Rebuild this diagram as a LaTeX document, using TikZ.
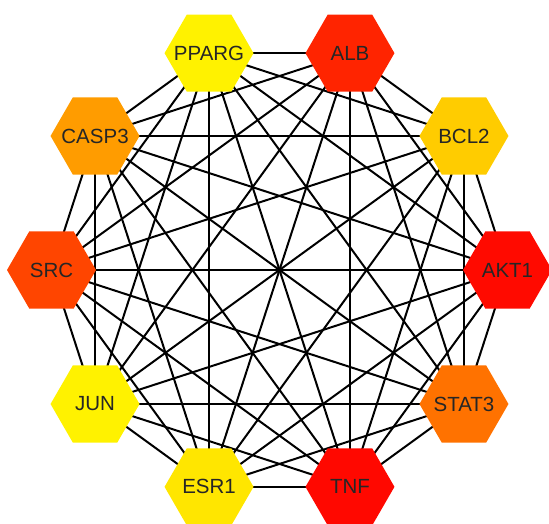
\documentclass[tikz,border=0pt]{standalone}
\usepackage{fontspec}
\setmainfont{Liberation Sans}
\usetikzlibrary{shapes.geometric,backgrounds,calc}
\definecolor{cAKT}{HTML}{FF0A00}
\definecolor{cBCL}{HTML}{FFCC00}
\definecolor{cALB}{HTML}{FF2400}
\definecolor{cPPA}{HTML}{FFF200}
\definecolor{cCAS}{HTML}{FF9C00}
\definecolor{cSRC}{HTML}{FF4500}
\definecolor{cJUN}{HTML}{FFF200}
\definecolor{cESR}{HTML}{FFE600}
\definecolor{cTNF}{HTML}{FF0800}
\definecolor{cSTA}{HTML}{FF7200}
\tikzset{
  gene/.style={regular polygon, regular polygon sides=6, minimum size=89pt,
    inner sep=0pt, draw=none, font=\fontsize{20.5}{22}\selectfont, text=black!85},
  link/.style={line width=2pt, black}
}
\newcommand{\gname}[1]{\makebox[0pt]{#1}}
\begin{document}
\begin{tikzpicture}[x=1pt,y=1pt]
\useasboundingbox (0,0) rectangle (549,524);
\coordinate (O) at (279.5,254);
\node[gene, fill=cAKT] (AKT1) at ($(O)+(0:228)$) {\gname{AKT1}};
\node[gene, fill=cBCL] (BCL2) at ($(O)+(36:228)$) {\gname{BCL2}};
\node[gene, fill=cALB] (ALB) at ($(O)+(72:228)$) {\gname{ALB}};
\node[gene, fill=cPPA] (PPARG) at ($(O)+(108:228)$) {\gname{PPARG}};
\node[gene, fill=cCAS] (CASP3) at ($(O)+(144:228)$) {\gname{CASP3}};
\node[gene, fill=cSRC] (SRC) at ($(O)+(180:228)$) {\gname{SRC}};
\node[gene, fill=cJUN] (JUN) at ($(O)+(216:228)$) {\gname{JUN}};
\node[gene, fill=cESR] (ESR1) at ($(O)+(252:228)$) {\gname{ESR1}};
\node[gene, fill=cTNF] (TNF) at ($(O)+(288:228)$) {\gname{TNF}};
\node[gene, fill=cSTA] (STAT3) at ($(O)+(324:228)$) {\gname{STAT3}};
\begin{scope}[on background layer]
\foreach \a/\others in {AKT1/{BCL2,ALB,PPARG,CASP3,SRC,JUN,ESR1,TNF,STAT3},
  BCL2/{ALB,PPARG,CASP3,SRC,JUN,ESR1,TNF,STAT3},
  ALB/{PPARG,CASP3,SRC,JUN,ESR1,TNF,STAT3},
  PPARG/{CASP3,SRC,JUN,ESR1,TNF,STAT3},
  CASP3/{SRC,JUN,ESR1,TNF,STAT3},
  SRC/{JUN,ESR1,TNF,STAT3},
  JUN/{ESR1,TNF,STAT3},
  ESR1/{TNF,STAT3},
  TNF/{STAT3}}{
  \foreach \b in \others { \draw[link] (\a.center) -- (\b.center); }
}
\end{scope}
\end{tikzpicture}
\end{document}
